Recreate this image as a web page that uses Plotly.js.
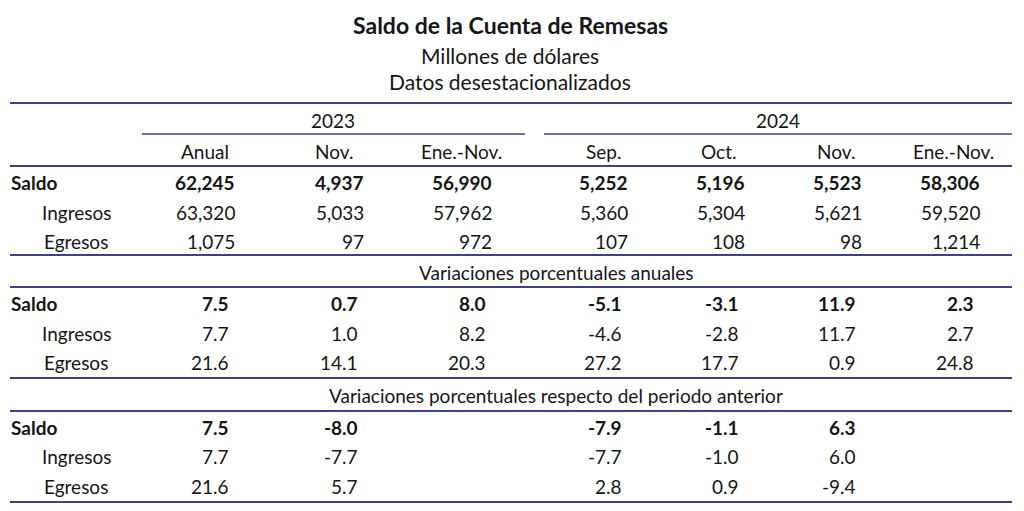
<!DOCTYPE html>
<html>
<head>
<meta charset="utf-8">
<script src="https://cdn.plot.ly/plotly-3.0.1.min.js"></script>
<style>
  html, body { margin: 0; padding: 0; background: #fff; }
  #chart { width: 1024px; height: 511px; }
</style>
</head>
<body>
<div id="chart"></div>
<script>
// titles and column headers
const titleLines = ['Saldo de la Cuenta de Remesas', 'Millones de dólares', 'Datos desestacionalizados'];
const years = ['2023', '2024'];
const periods = ['Anual', 'Nov.', 'Ene.-Nov.', 'Sep.', 'Oct.', 'Nov.', 'Ene.-Nov.'];
const rowNames = ['Saldo', 'Ingresos', 'Egresos'];
const sections = ['Variaciones porcentuales anuales', 'Variaciones porcentuales respecto del periodo anterior'];

// millones de dólares
const saldoNivel    = [62245, 4937, 56990, 5252, 5196, 5523, 58306];
const ingresosNivel = [63320, 5033, 57962, 5360, 5304, 5621, 59520];
const egresosNivel  = [1075, 97, 972, 107, 108, 98, 1214];

// variaciones porcentuales anuales
const saldoAnual    = [7.5, 0.7, 8.0, -5.1, -3.1, 11.9, 2.3];
const ingresosAnual = [7.7, 1.0, 8.2, -4.6, -2.8, 11.7, 2.7];
const egresosAnual  = [21.6, 14.1, 20.3, 27.2, 17.7, 0.9, 24.8];

// variaciones respecto del periodo anterior
const saldoPeriodo    = [7.5, -8.0, null, -7.9, -1.1, 6.3, null];
const ingresosPeriodo = [7.7, -7.7, null, -7.7, -1.0, 6.0, null];
const egresosPeriodo  = [21.6, 5.7, null, 2.8, 0.9, -9.4, null];

// layout (axis units = px of the 1024x511 canvas)
const FONT = 'Lato, "Open Sans", sans-serif';
const INK = '#161616';
const LINE = '#3f3f8f';
const SIZE = 19;
const colRight = [236, 365, 493, 629, 746, 863, 981];
const colCenter = [205, 334, 461, 603, 718, 836, 953];
const yearCenter = [333, 778];
const yearSpan = [[142, 525], [544, 1012]];
const titleY = [25, 55, 81];
const titleSize = [23, 21, 21];
const rowY = {
  year: 120, period: 151,
  s1: [182, 212, 241], sec2: 272,
  s2: [303, 333, 362], sec3: 395,
  s3: [427, 456, 486]
};
const ruleY = [103, 166, 255, 287, 378, 411, 502];
const pctShift = -6;

const fmtInt = v => v.toLocaleString('en-US');
const fmtPct = v => v.toFixed(1);

const annotations = [];
function txt(x, y, text, opts) {
  annotations.push(Object.assign({
    x: x, y: y, xref: 'x', yref: 'y', text: text, showarrow: false,
    xanchor: 'center', yanchor: 'middle', borderpad: 0,
    font: {family: FONT, size: SIZE, color: INK}
  }, opts || {}));
}

// titles
titleLines.forEach((t, i) => txt(510, titleY[i], i === 0 ? '<b>' + t + '</b>' : t,
  {font: {family: FONT, size: titleSize[i], color: INK}}));

// headers
years.forEach((yr, i) => txt(yearCenter[i], rowY.year, yr));
periods.forEach((p, i) => txt(colCenter[i], rowY.period, p));

function block(ys, series, fmt, shift) {
  series.forEach((vals, r) => {
    const bold = r === 0;
    txt(bold ? 10 : 76, ys[r], bold ? '<b>' + rowNames[r] + '</b>' : rowNames[r],
        {xanchor: bold ? 'left' : 'center'});
    vals.forEach((v, c) => {
      if (v === null) return;
      const s = fmt(v);
      txt(colRight[c], ys[r], bold ? '<b>' + s + '</b>' : s, {xanchor: 'right', xshift: shift});
    });
  });
}
block(rowY.s1, [saldoNivel, ingresosNivel, egresosNivel], fmtInt, 0);
txt(556, rowY.sec2, sections[0]);
block(rowY.s2, [saldoAnual, ingresosAnual, egresosAnual], fmtPct, pctShift);
txt(556, rowY.sec3, sections[1]);
block(rowY.s3, [saldoPeriodo, ingresosPeriodo, egresosPeriodo], fmtPct, pctShift);

const shapes = ruleY.map(y => ({
  type: 'line', xref: 'x', yref: 'y', x0: 10, x1: 1012, y0: y, y1: y,
  line: {color: LINE, width: 2}
}));
yearSpan.forEach(s => shapes.push({
  type: 'line', xref: 'x', yref: 'y', x0: s[0], x1: s[1], y0: 134, y1: 134,
  line: {color: LINE, width: 1.5}
}));

const layout = {
  width: 1024, height: 511,
  margin: {l: 0, r: 0, t: 0, b: 0},
  paper_bgcolor: '#fff', plot_bgcolor: '#fff',
  showlegend: false,
  xaxis: {range: [0, 1024], visible: false, fixedrange: true},
  yaxis: {range: [511, 0], visible: false, fixedrange: true},
  annotations: annotations,
  shapes: shapes
};

Plotly.newPlot('chart', [{x: [], y: [], type: 'scatter', mode: 'text'}], layout, {displayModeBar: false, staticPlot: true});
</script>
</body>
</html>
